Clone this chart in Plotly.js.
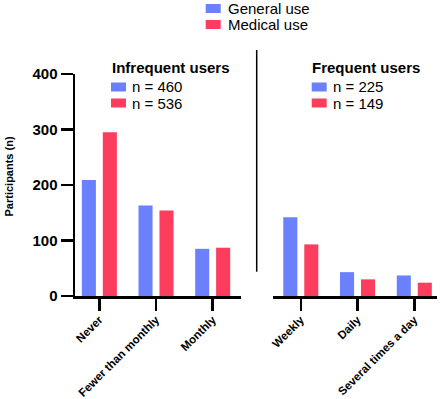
<!DOCTYPE html>
<html>
<head>
<meta charset="utf-8">
<script src="https://cdn.plot.ly/plotly-3.0.1.min.js"></script>
<style>
html,body{margin:0;padding:0;background:#fff;}
#chart{width:440px;height:399px;}
</style>
</head>
<body>
<div id="chart"></div>
<script>
// ---- data ----
var infrequentCategories = ["Never", "Fewer than monthly", "Monthly"];
var frequentCategories = ["Weekly", "Daily", "Several times a day"];
var infrequentGeneral = [209, 163, 85];
var infrequentMedical = [295, 154, 87];
var frequentGeneral = [142, 43, 37];
var frequentMedical = [93, 30, 24];
var seriesNames = ["General use", "Medical use"];
var infrequentN = ["n = 460", "n = 536"];
var frequentN = ["n = 225", "n = 149"];
var groupTitles = ["Infrequent users", "Frequent users"];
var yTicks = [0, 100, 200, 300, 400];

var BLUE = "#6a80fd";
var RED = "#fd3d5e";
var FONT = "Liberation Sans, Arial, sans-serif";

// plot-area geometry (pixels)
var L = 75, R = 3, T = 74, B = 103, W = 440, H = 399;
var PW = W - L - R, PH = H - T - B;
function fx(px) { return (px - L) / PW; }
function fy(py) { return (H - B - py) / PH; }

var traces = [
  {type: "bar", x: infrequentCategories, y: infrequentGeneral, xaxis: "x", yaxis: "y",
   marker: {color: BLUE, line: {width: 0}}, name: seriesNames[0], showlegend: false},
  {type: "bar", x: infrequentCategories, y: infrequentMedical, xaxis: "x", yaxis: "y",
   marker: {color: RED, line: {width: 0}}, name: seriesNames[1], showlegend: false},
  {type: "bar", x: frequentCategories, y: frequentGeneral, xaxis: "x2", yaxis: "y",
   marker: {color: BLUE, line: {width: 0}}, name: seriesNames[0], showlegend: false},
  {type: "bar", x: frequentCategories, y: frequentMedical, xaxis: "x2", yaxis: "y",
   marker: {color: RED, line: {width: 0}}, name: seriesNames[1], showlegend: false}
];

var tickFontX = {family: FONT, size: 11.5, color: "#000", weight: 700};
var xCommon = {
  type: "category", showline: true, linecolor: "#000", linewidth: 2.5,
  ticks: "outside", ticklen: 12, tickwidth: 2.5, tickcolor: "#000",
  ticklabelstandoff: -2,
  tickangle: -45, tickfont: tickFontX, showgrid: false, zeroline: false,
  anchor: "y", fixedrange: true
};

var layout = {
  width: W, height: H,
  margin: {l: L, r: R, t: T, b: B, pad: 0},
  paper_bgcolor: "#fff", plot_bgcolor: "#fff",
  barmode: "group", bargap: 0.26, bargroupgap: 0.33,
  showlegend: false,
  xaxis: Object.assign({}, xCommon, {domain: [0, fx(241)], range: [-0.43, 2.5]}),
  xaxis2: Object.assign({}, xCommon, {domain: [fx(273), 1], range: [-0.49, 2.4]}),
  yaxis: {
    range: [0, 400], tickvals: yTicks, ticktext: yTicks.map(String),
    showline: true, linecolor: "#000", linewidth: 2.5,
    ticks: "outside", ticklen: 12, tickwidth: 2.5, tickcolor: "#000",
    tickfont: {family: FONT, size: 15, color: "#000", weight: 700},
    showgrid: false, zeroline: false, anchor: "x", fixedrange: true
  },
  shapes: [],
  annotations: []
};

// y-axis title
layout.annotations.push({
  xref: "paper", yref: "paper", x: fx(8), y: fy(176.5), xanchor: "center", yanchor: "middle",
  text: "Participants (n)", textangle: -90, showarrow: false,
  font: {family: FONT, size: 11, color: "#000", weight: 700}
});

// separator line between the two groups
layout.shapes.push({type: "line", xref: "paper", yref: "paper",
  x0: fx(256.7), x1: fx(256.7), y0: fy(50), y1: fy(271.7),
  line: {color: "#000", width: 1.5}});

function legendRow(swLeft, textLeft, cy, color, label, size) {
  layout.shapes.push({type: "rect", xref: "paper", yref: "paper",
    x0: fx(swLeft), x1: fx(swLeft + 15), y0: fy(cy + 4.5), y1: fy(cy - 4.5),
    fillcolor: color, line: {width: 0}});
  layout.annotations.push({xref: "paper", yref: "paper", x: fx(textLeft), y: fy(cy),
    xanchor: "left", yanchor: "middle", text: label, showarrow: false,
    font: {family: FONT, size: size, color: "#000"}});
}

// main legend
legendRow(205.7, 226, 8.5, BLUE, seriesNames[0], 15);
legendRow(205.7, 226, 24.5, RED, seriesNames[1], 15);

// group titles
[[109.5, groupTitles[0]], [309.5, groupTitles[1]]].forEach(function (g) {
  layout.annotations.push({xref: "paper", yref: "paper", x: fx(g[0]), y: fy(67.5),
    xanchor: "left", yanchor: "middle", text: g[1], showarrow: false,
    font: {family: FONT, size: 15, color: "#000", weight: 700}});
});

// group n legends
legendRow(111, 130, 87, BLUE, infrequentN[0], 15);
legendRow(111, 130, 103, RED, infrequentN[1], 15);
legendRow(311.7, 330.5, 87, BLUE, frequentN[0], 15);
legendRow(311.7, 330.5, 103, RED, frequentN[1], 15);

Plotly.newPlot("chart", traces, layout, {displayModeBar: false, staticPlot: true});
</script>
</body>
</html>
